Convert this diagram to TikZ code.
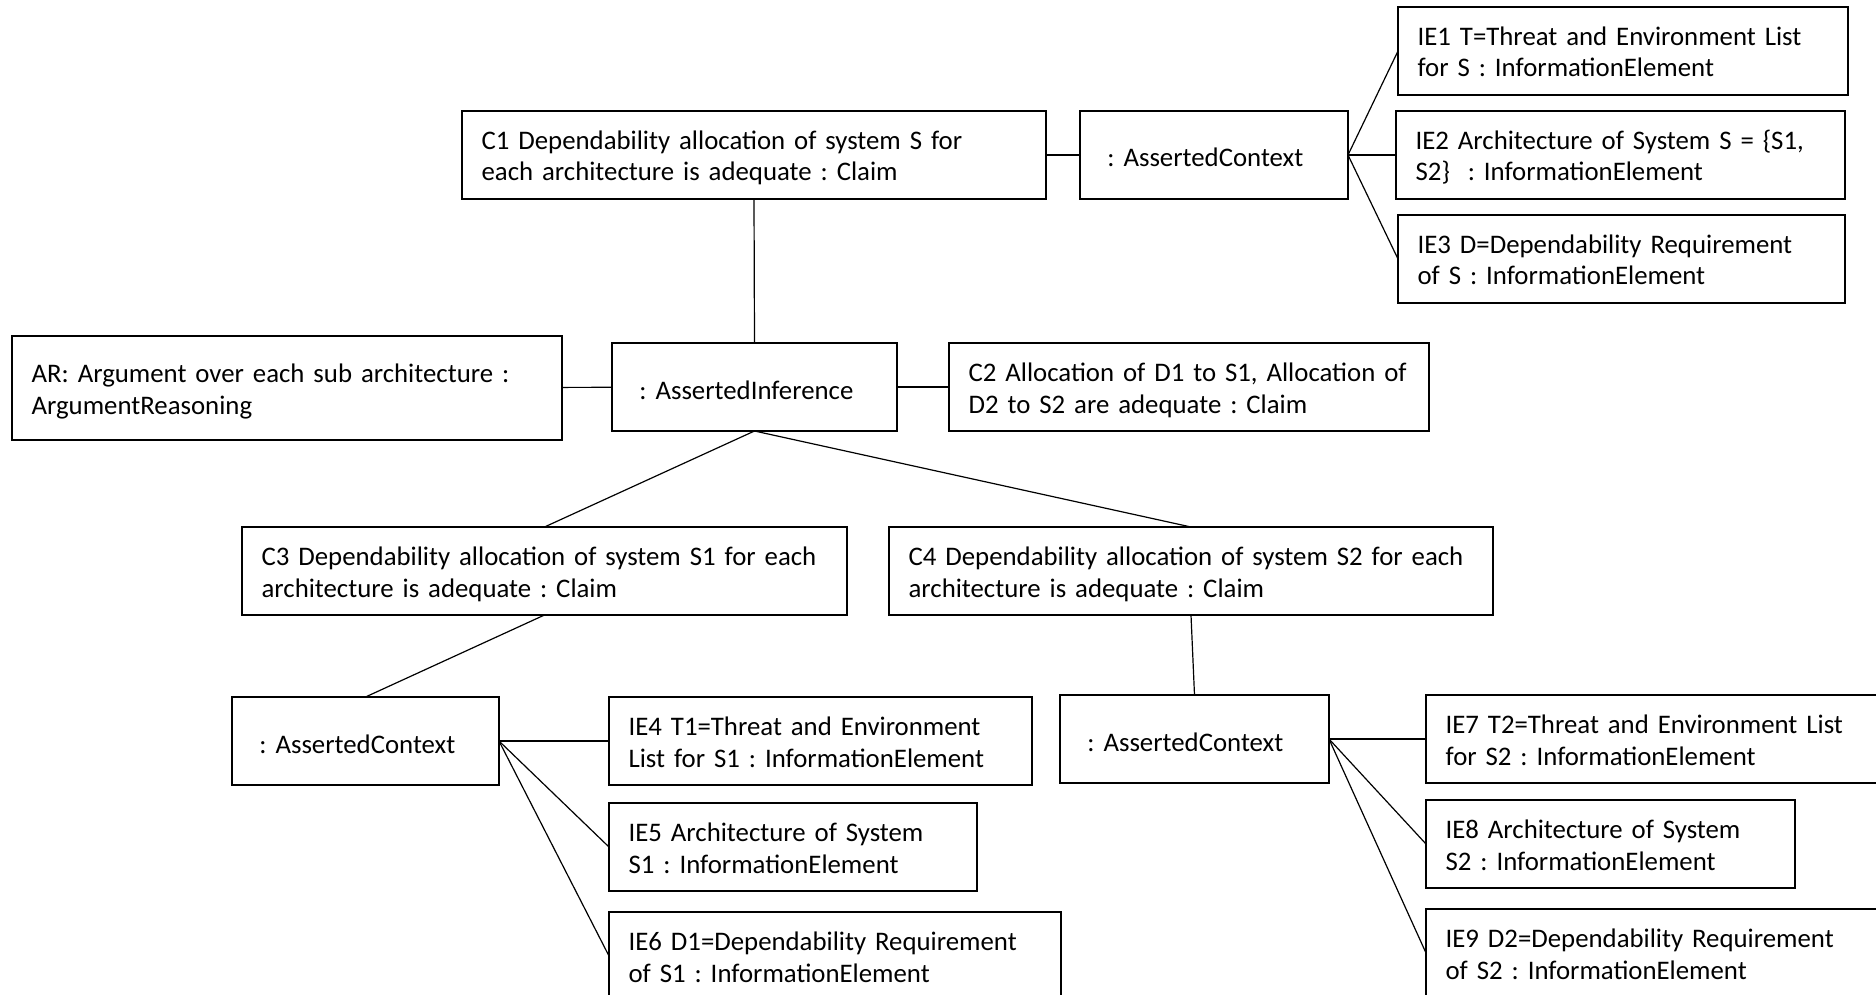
\documentclass[tikz,border=0pt]{standalone}
\usepackage{fontspec}
\setmainfont{Carlito}
\usepackage{tikz}

\tikzset{
  elem/.style = {draw, line width=0.75pt, rectangle, anchor=north west, align=left,
    outer sep=0pt, inner xsep=9.8pt, inner ysep=0pt, minimum height=44pt,
    text height=18.8pt, text depth=24.4pt,
    font=\fontsize{13.4}{15.8}\selectfont\frenchspacing},
  ctx/.style = {elem, inner xsep=13.7pt, text height=13pt, text depth=1pt},
  link/.style = {line width=0.6pt}
}

\begin{document}
\begin{tikzpicture}[x=0.5pt, y=-0.5pt]
\useasboundingbox (0, 0) rectangle (1876, 995);
\node (c1) at (462, 111) [elem, text width=272.4pt]
  {C1 Dependability allocation of system S for\\each architecture is adequate : Claim};
\node (ac0) at (1080, 111) [ctx, text width=106.6pt] {: AssertedContext};
\node (ie1) at (1398, 7) [elem, text width=205.4pt]
  {IE1 T=Threat and Environment List\\for S : InformationElement};
\node (ie2) at (1396, 111) [elem, text width=204.9pt]
  {IE2 Architecture of System S = \{S1,\\S2\}~ : InformationElement};
\node (ie3) at (1398, 215) [elem, text width=203.9pt]
  {IE3 D=Dependability Requirement\\of S : InformationElement};
\node (ar) at (12, 336) [elem, text width=255.4pt, minimum height=52pt]
  {AR: Argument over each sub architecture :\\ArgumentReasoning};
\node (ai) at (612, 343) [ctx, text width=115.1pt] {: AssertedInference};
\node (c2) at (949, 343) [elem, text width=220.4pt]
  {C2 Allocation of D1 to S1, Allocation of\\D2 to S2 are adequate : Claim};
\node (c3) at (242, 527) [elem, text width=282.9pt]
  {C3 Dependability allocation of system S1 for each\\architecture is adequate : Claim};
\node (c4) at (889, 527) [elem, text width=282.4pt]
  {C4 Dependability allocation of system S2 for each\\architecture is adequate : Claim};
\node (ac1) at (232, 697) [ctx, text width=106.1pt] {: AssertedContext};
\node (ie4) at (609, 697) [elem, text width=191.9pt]
  {IE4 T1=Threat and Environment\\List for S1 : InformationElement};
\node (ie5) at (609, 803) [elem, text width=164.4pt]
  {IE5 Architecture of System\\S1 : InformationElement};
\node (ie6) at (609, 912) [elem, text width=206.4pt]
  {IE6 D1=Dependability Requirement\\of S1 : InformationElement};
\node (ac2) at (1060, 695) [ctx, text width=107.1pt] {: AssertedContext};
\node (ie7) at (1426, 695) [elem, text width=215.4pt]
  {IE7 T2=Threat and Environment List\\for S2 : InformationElement};
\node (ie8) at (1426, 800) [elem, text width=164.9pt]
  {IE8 Architecture of System\\S2 : InformationElement};
\node (ie9) at (1426, 909) [elem, text width=215.4pt]
  {IE9 D2=Dependability Requirement\\of S2 : InformationElement};
% top claim and its context
\draw [link] (c1) -- (ac0);
\draw [link] (ac0.east) -- (ie1.west);
\draw [link] (ac0.east) -- (ie2.west);
\draw [link] (ac0.east) -- (ie3.west);
% inference
\draw [link] (c1.south) -- (ai.north);
\draw [link] (ar) -- (ai);
\draw [link] (ai) -- (c2);
\draw [link] (ai.south) -- (c3.north);
\draw [link] (ai.south) -- (c4.north);
% sub claims
\draw [link] (c3.south) -- (ac1.north);
\draw [link] (ac1.east) -- (ie4.west);
\draw [link] (ac1.east) -- (ie5.west);
\draw [link] (ac1.east) -- (ie6.west);
\draw [link] (c4.south) -- (ac2.north);
\draw [link] (ac2.east) -- (ie7.west);
\draw [link] (ac2.east) -- (ie8.west);
\draw [link] (ac2.east) -- (ie9.west);
\end{tikzpicture}
\end{document}
